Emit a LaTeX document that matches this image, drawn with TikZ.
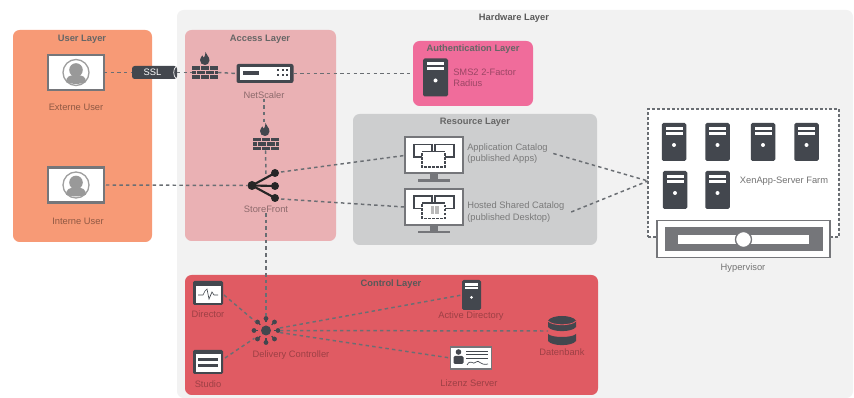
\documentclass[tikz,border=0pt]{standalone}
\usepackage{fontspec}
\setmainfont{Liberation Sans}
\definecolor{hwfill}{HTML}{F2F2F2}
\definecolor{userfill}{HTML}{F79A76}
\definecolor{accessfill}{HTML}{EAB1B4}
\definecolor{authfill}{HTML}{F06C9B}
\definecolor{resfill}{HTML}{CDCECF}
\definecolor{ctrlfill}{HTML}{E05B63}
\definecolor{darkicon}{HTML}{43474E}
\definecolor{midicon}{HTML}{75767A}
\definecolor{linkgray}{HTML}{6A6E73}
\tikzset{
  sized/.style 2 args = {minimum width=#1*0.75pt, minimum height=#2*0.75pt,
    inner sep=0pt, outer sep=0pt},
  layer_box/.style = {rounded corners=5pt, draw=none},
  layer_title/.style = {inner sep=0pt, font=\fontsize{7pt}{8pt}\selectfont\bfseries,
    text=#1},
  icon_text/.style = {inner sep=0pt, align=left, font=\fontsize{7pt}{8.4pt}\selectfont,
    text=#1},
  link/.style = {draw=linkgray, line width=1.1pt, dash pattern=on 2.6pt off 2.4pt},
  server_box/.style = {fill=darkicon, rounded corners=1.2pt},
  user_box/.style = {fill=white, draw=midicon, line width=1.8pt, sized={56}{35}},
  monitor_box/.style = {fill=white, draw=midicon, line width=1.5pt, sized={58}{36}},
  pics/serverbars/.style = {code={
    \fill[white] (-8.5,-15) rectangle (8.5,-12);
    \fill[white] (-8.5,-10) rectangle (8.5,-7);
    \fill[white] (0,3) circle (1.5pt);}},
  pics/avatar/.style = {code={
    \draw[draw=gray!75, line width=1pt] (0,0) circle (13);
    \fill[gray!80] (0,-2.5) circle (6.8);
    \fill[gray!80] (-10,9.5) .. controls (-10,4) and (-6,2.5) .. (0,2.5)
      .. controls (6,2.5) and (10,4) .. (10,9.5)
      .. controls (5,12) and (-5,12) .. (-10,9.5) -- cycle;}},
  pics/flame/.style = {code={
    \fill[darkicon] (0.5,-7) .. controls (1,-3.5) and (4.5,-3) .. (4.5,1.5)
      .. controls (4.5,4.5) and (2,6) .. (0,6) .. controls (-3,6) and (-5,4) .. (-5,1)
      .. controls (-5,-1.5) and (-3,-2.5) .. (-2.5,-3.5)
      .. controls (-2,-2) and (-1.5,-1.5) .. (-1,-1.5)
      .. controls (0,-3) and (0.5,-5) .. (0.5,-7) -- cycle;}},
  pics/bricks/.style = {code={
    \foreach \xa/\xb in {-13/-5,-4/4,5/13} {
      \fill[darkicon] (\xa,-6.3) rectangle (\xb,-2.7);
      \fill[darkicon] (\xa,2.7) rectangle (\xb,6.3);}
    \foreach \xa/\xb in {-13/-9,-8/0,1/9,10/13}
      \fill[darkicon] (\xa,-1.7) rectangle (\xb,1.7);}},
  pics/windows/.style = {code={
    \fill[darkicon] (-9,-7) rectangle (9,-5.5);
    \fill[darkicon] (12,-7) rectangle (31,-5.5);
    \draw[draw=darkicon, line width=0.9pt] (-9,-7) -- (-9,6) -- (0,6);
    \draw[draw=darkicon, line width=0.9pt] (9,-7) -- (9,0);
    \draw[draw=darkicon, line width=0.9pt] (12,-7) -- (12,0);
    \draw[draw=darkicon, line width=0.9pt] (31,-7) -- (31,6) -- (21,6);
    \fill[white] (-1,0) rectangle (22,16);
    \fill[darkicon] (-1,0) rectangle (22,1.5);
    \draw[draw=darkicon, line width=1.1pt, dash pattern=on 2pt off 1pt]
      (-1,2) -- (-1,16) -- (22,16) -- (22,2);}},
  pics/stand/.style = {code={
    \fill[midicon] (-4,0) rectangle (4,6);
    \fill[midicon] (-16,6) rectangle (16,8.5);}}
}
\begin{document}
\begin{tikzpicture}[x=0.75pt,y=-0.75pt]
\useasboundingbox (0,0) rectangle (854,398);

% layers
\node [layer_box, fill=hwfill, sized={676}{388}] (hwlayer) at (515,204) {};
\node [layer_box, fill=userfill, sized={139}{212}] (userlayer) at (82.5,136) {};
\node [layer_box, fill=accessfill, sized={151}{211}] (accesslayer) at (260.5,135.5) {};
\node [layer_box, fill=authfill, sized={120}{65}] (authlayer) at (473,73.5) {};
\node [layer_box, fill=resfill, sized={244}{131}] (reslayer) at (475,179.5) {};
\node [layer_box, fill=ctrlfill, sized={413}{120}] (ctrllayer) at (391.5,335) {};
\node [layer_title=black!65] (hwtitle) at (514,18) {Hardware Layer};
\node [layer_title=black!60] (usertitle) at (82,39) {User Layer};
\node [layer_title=black!60] (accesstitle) at (260,39) {Access Layer};
\node [layer_title=black!60] (authtitle) at (473,49) {Authentication Layer};
\node [layer_title=black!60] (restitle) at (475,122) {Resource Layer};
\node [layer_title=black!65] (ctrltitle) at (391,284) {Control Layer};

% farm
\node [fill=white, draw=linkgray, line width=1.1pt, dash pattern=on 2.2pt off 1.5pt,
  sized={191}{128}] (farm) at (743.5,173) {};
\coordinate (farmin) at (648,181);

% users
\node [user_box] (extuser) at (76,72.5) {};
\pic at (extuser) {avatar};
\node [icon_text=black!42!userfill] (extlabel) at (76,107) {Externe User};
\node [user_box] (intuser) at (76,185) {};
\pic at (intuser) {avatar};
\node [icon_text=black!42!userfill] (intlabel) at (78,221) {Interne User};

% access
\node [fill=darkicon, rounded corners=2pt, sized={45}{13}, text=white,
  font=\fontsize{7pt}{8pt}\selectfont] (ssl) at (154.5,72.5) {\hspace*{-3pt}SSL};
\draw [white, line width=0.5pt] (176,66.5) .. controls (173,69) and (173,76) .. (176,78.5);
\node [sized={26}{13}] (wall1) at (205,72.5) {};
\pic at (wall1) {bricks};
\node [sized={10}{14}] (flame1) at (205,59) {};
\pic at (flame1) {flame};
\node [fill=darkicon, rounded corners=1.5pt, sized={57}{19}] (netscaler) at (265,73.5) {};
\fill [white] (240,67) rectangle (290,80);
\fill [darkicon] (243,71) rectangle (259,75);
\fill [darkicon] (273,66.5) rectangle (274.5,67.5);
\foreach \x in {278,282.5,287} \foreach \y in {70.5,75.5}
  \fill [darkicon] (\x-1,\y-1) rectangle (\x+1,\y+1);
\node [icon_text=black!40!accessfill] (nslabel) at (264,95) {NetScaler};
\node [sized={10}{14}] (flame2) at (265,130) {};
\pic at (flame2) {flame};
\node [sized={26}{13}] (wall2) at (265.5,144) {};
\pic at (wall2) {bricks};
% storefront
\node [circle, fill=black!85, sized={9}{9}] (sfhub) at (252,185.5) {};
\node [circle, fill=black!85, sized={8}{8}] (sftop) at (275,173) {};
\node [circle, fill=black!85, sized={8}{8}] (sfmid) at (275,186) {};
\node [circle, fill=black!85, sized={8}{8}] (sfbot) at (275,198) {};
\foreach \tip in {sftop,sfmid,sfbot}
  \draw [black!85, line width=1.6pt] (sfhub.center) -- (\tip.center);
\node [icon_text=black!40!accessfill] (sflabel) at (266,209.5) {StoreFront};
\coordinate (sfup) at (266,175);

% authentication
\node [server_box, sized={25}{38}] (authsrv) at (435.5,77.5) {};
\pic at (authsrv) {serverbars};
\node [icon_text=black!35!authfill, anchor=west] (authlabel) at (453,77.5)
  {SMS2 2-Factor\\Radius};

% resources
\node [monitor_box] (appmon) at (433.5,155.5) {};
\pic at (appmon.south) {stand};
\pic at (423,151) {windows};
\node [monitor_box] (hostmon) at (433.5,207) {};
\pic at (hostmon.south) {stand};
\pic at (423,202.5) {windows};
\foreach \x/\y in {430.5/206,435/206,430.5/210.5,435/210.5}
  \fill [gray!55] (\x,\y) rectangle (\x+3.7,\y+3.7);
\node [icon_text=black!52, anchor=west] (appcat) at (467,153.5)
  {Application Catalog\\(published Apps)};
\node [icon_text=black!52, anchor=west] (hostcat) at (467,212)
  {Hosted Shared Catalog\\(published Desktop)};

% servers of the farm
\foreach \name/\x/\y in {farm1/674/142,farm2/717.5/142,farm3/763/142,farm4/806.5/142,
  farm5/675/190,farm6/717.5/190} {
  \node [server_box, sized={24.5}{38}] (\name) at (\x,\y) {};
  \pic at (\name) {serverbars};
}
\node [icon_text=black!55] (farmlabel) at (784,181) {XenApp-Server Farm};
\node [fill=white, draw=midicon, line width=1.2pt, sized={173}{37}] (hypervisor) at (743.5,239) {};
\fill [midicon] (665,227) rectangle (823,251);
\fill [white] (678,235) rectangle (809,244);
\draw [fill=white, draw=midicon, line width=1pt] (743.5,239.5) circle (8);
\node [icon_text=black!55] (hvlabel) at (743,268) {Hypervisor};

% control
\node [fill=darkicon, rounded corners=1pt, sized={30}{24}] (director) at (208,293) {};
\fill [white] (195.5,286) rectangle (221,303);
\draw [darkicon, line width=0.5pt] (198,295) -- (203,295) -- (205,291) -- (207,289)
  -- (209,299) -- (212,292) -- (214,295) -- (218,295);
\node [icon_text=black!30!ctrlfill] (dirlabel) at (208,314) {Director};
\node [fill=darkicon, rounded corners=1pt, sized={30}{24}] (studio) at (208,362) {};
\fill [white] (195.5,354) rectangle (221,372);
\fill [darkicon] (198,358) rectangle (218,361);
\fill [darkicon] (198,364) rectangle (218,367);
\node [icon_text=black!30!ctrlfill] (stulabel) at (208,384) {Studio};
\node [circle, sized={28}{28}] (dc) at (266,330.5) {};
\fill [darkicon] (dc) circle (5);
\foreach \ang in {0,45,...,315} {
  \fill [darkicon] (dc) ++(\ang:12) circle (2.4);
  \draw [darkicon, line width=0.9pt] (dc) ++(\ang:8) -- ++(\ang:4);
}
\node [icon_text=black!30!ctrlfill] (dclabel) at (291,355) {Delivery Controller};
\node [server_box, sized={19}{30}] (adsrv) at (471.5,295) {};
\pic [scale=0.79] at (adsrv) {serverbars};
\node [icon_text=black!30!ctrlfill] (adlabel) at (471,316) {Active Directory};
\node [sized={28}{30}] (db) at (562,331) {};
\fill [darkicon] (548,320.5) .. controls (552,314.5) and (572,314.5) .. (576,320.5) -- (576,327)
  .. controls (572,332.5) and (552,332.5) .. (548,327) -- cycle;
\draw [ctrlfill, line width=0.6pt] (548,321) .. controls (552,326) and (572,326) .. (576,321);
\fill [darkicon] (548,334) .. controls (552,338) and (572,338) .. (576,334)
  -- (576,341) .. controls (572,346.5) and (552,346.5) .. (548,341) -- cycle;
\node [icon_text=black!30!ctrlfill] (dblabel) at (562,352) {Datenbank};
\node [fill=white, draw=midicon, line width=1pt, sized={41}{22}] (lizenz) at (471,358) {};
\fill [darkicon] (458.5,352) circle (2.8);
\fill [darkicon, rounded corners=1pt] (453.5,356) rectangle (463.5,364);
\foreach \y in {351,354.5,358}
  \draw [darkicon, line width=0.5pt] (466,\y) -- (488,\y);
\draw [darkicon, line width=0.5pt] (467,365) .. controls (471,358) and (473,366) .. (476,362)
  .. controls (479,359) and (480,366) .. (488,364);
\node [icon_text=black!30!ctrlfill] (lizlabel) at (469,383.5) {Lizenz Server};

% links
\draw [link] (extuser.east) -- (ssl.west);
\draw [link] (ssl.east) -- (wall1.west);
\draw [link] (wall1.east) -- (netscaler.west);
\draw [link] (netscaler.east) -- (authlayer.west |- netscaler.east);
\draw [link] (nslabel.south) -- (nslabel.south |- flame2.north);
\draw [link] (wall2.south) -- (sfup);
\draw [link] (intuser.east) ++(2,0) -- (sfhub.west);
\draw [link] (sflabel.south) -- (dc);
\draw [link] (sftop) ++(6,-1) -- (appmon.west);
\draw [link] (sfbot) ++(6,1) -- (hostmon.west);
\draw [link] ([xshift=4pt]appcat.east) -- (farmin);
\draw [link] ([xshift=5pt]hostcat.east) -- (farmin);
\draw [link] (director.east) ++(1,2) -- (dc);
\draw [link] (studio.east) ++(2,-4) -- (dc);
\draw [link] (dc) -- (adsrv.west);
\draw [link] (dc) -- (db.west);
\draw [link] (dc) -- (lizenz.west);
\end{tikzpicture}
\end{document}
